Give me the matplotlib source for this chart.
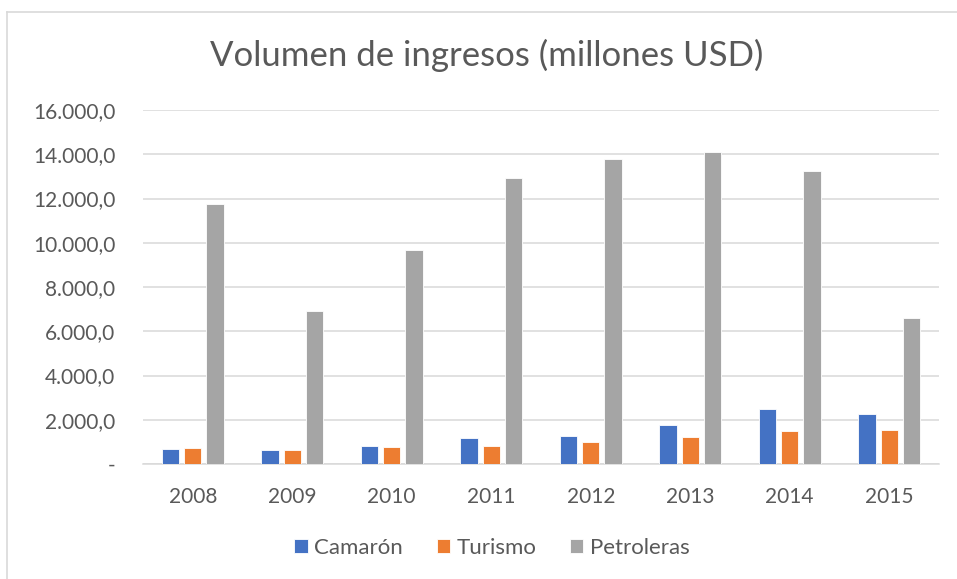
import matplotlib
matplotlib.use('Agg')
import matplotlib.pyplot as plt
import numpy as np

plt.rcParams['font.family'] = ['Lato', 'DejaVu Sans']

# datos (millones USD)
years = ['2008', '2009', '2010', '2011', '2012', '2013', '2014', '2015']
camaron = [690, 630, 830, 1170, 1250, 1770, 2490, 2260]
turismo = [710, 650, 750, 810, 1010, 1220, 1470, 1530]
petroleras = [11730, 6930, 9655, 12920, 13770, 14090, 13260, 6620]
series_names = ['Camarón', 'Turismo', 'Petroleras']
colors = ['#4472C4', '#ED7D31', '#A5A5A5']
y_ticks = [0, 2000, 4000, 6000, 8000, 10000, 12000, 14000, 16000]

TXT = '#595959'
GRID = '#D9D9D9'


def fmt(v):
    if v == 0:
        return '-'
    s = f'{v:,.1f}'
    return s.replace(',', 'X').replace('.', ',').replace('X', '.')


W, H = 957, 579
fig = plt.figure(figsize=(W / 100, H / 100), dpi=100)
ax = fig.add_axes([143 / W, 1 - 464 / H, (939 - 143) / W, (464 - 110) / H])

x = np.arange(len(years))
step = 0.223
width = 0.175
data = [camaron, turismo, petroleras]
handles = []
for i, (vals, name, c) in enumerate(zip(data, series_names, colors)):
    b = ax.bar(x + (i - 1) * step, vals, width, color=c, label=name,
               edgecolor='white', linewidth=0.6, zorder=3)
    handles.append(b)

ax.set_xlim(-0.5, len(years) - 0.5)
ax.set_ylim(0, 16000)
ax.set_yticks(y_ticks)
ax.set_yticklabels([fmt(v) for v in y_ticks])
ax.set_xticks(x)
ax.set_xticklabels(years)
ax.tick_params(axis='y', length=0, pad=20, labelsize=15, labelcolor=TXT)
ax.tick_params(axis='x', length=0, pad=16.5, labelsize=15, labelcolor=TXT)
ax.grid(axis='y', color=GRID, lw=1.1, zorder=0)
for s in ['top', 'right', 'left']:
    ax.spines[s].set_visible(False)
ax.spines['bottom'].set_color(GRID)
ax.spines['bottom'].set_linewidth(1.1)

fig.text(487 / W, 1 - 55 / H, 'Volumen de ingresos (millones USD)',
         ha='center', va='center', fontsize=25, color=TXT)

fig.legend(handles=handles, labels=series_names, loc='center',
           bbox_to_anchor=(492 / W, 1 - 548 / H), ncol=3, frameon=False,
           fontsize=16, labelcolor=TXT, handlelength=0.6, handleheight=0.6,
           handletextpad=0.3, columnspacing=1.5)

# borde del área del gráfico
fig.add_artist(plt.Line2D([7.5 / W, 7.5 / W], [0, 1 - 11.5 / H],
                          color=GRID, lw=1.2, transform=fig.transFigure))
fig.add_artist(plt.Line2D([7.5 / W, 1], [1 - 11.5 / H, 1 - 11.5 / H],
                          color=GRID, lw=1.2, transform=fig.transFigure))

fig.savefig('out.png', dpi=100)
